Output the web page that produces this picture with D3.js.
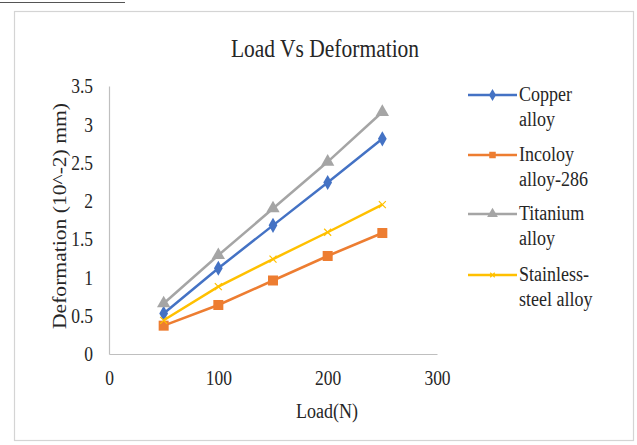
<!DOCTYPE html>
<html>
<head>
<meta charset="utf-8">
<script src="https://cdn.jsdelivr.net/npm/d3@7"></script>
<style>
  html, body { margin: 0; padding: 0; background: #fff; }
  svg { display: block; }
  text { font-family: "Liberation Serif", "Times New Roman", serif; fill: #262626; }
</style>
</head>
<body>
<svg id="chart" width="637" height="445"></svg>
<script>
// Load (N) on the x axis
const loads = [50, 100, 150, 200, 250];

// Deformation (10^-2 mm) for each alloy
const copperAlloy    = [0.53, 1.12, 1.68, 2.24, 2.81];
const incoloyAlloy   = [0.37, 0.64, 0.96, 1.28, 1.58];
const titaniumAlloy  = [0.66, 1.29, 1.90, 2.51, 3.16];
const stainlessAlloy = [0.44, 0.88, 1.24, 1.59, 1.95];

const seriesNames = [["Copper", "alloy"], ["Incoloy", "alloy-286"], ["Titanium", "alloy"], ["Stainless-", "steel alloy"]];
const seriesColors = ["#4472C4", "#ED7D31", "#A5A5A5", "#FFC000"];
const seriesMarkers = ["diamond", "square", "triangle", "cross"];

const xTicks = [0, 100, 200, 300];
const yTicks = [0, 0.5, 1, 1.5, 2, 2.5, 3, 3.5];

const series = [copperAlloy, incoloyAlloy, titaniumAlloy, stainlessAlloy].map((vals, i) => ({
  name: seriesNames[i], color: seriesColors[i], marker: seriesMarkers[i],
  points: vals.map((v, j) => ({ x: loads[j], y: v }))
}));

// tall, narrow lettering
const STRETCH = 1.2;

const svg = d3.select("#chart");

// caption underline above the frame
svg.append("line").attr("x1", 0).attr("x2", 125).attr("y1", 2.5).attr("y2", 2.5)
  .attr("stroke", "#555").attr("stroke-width", 1);

// chart frame
svg.append("rect").attr("x", 14.5).attr("y", 11.5).attr("width", 619).attr("height", 429)
  .attr("fill", "#fff").attr("stroke", "#d4d4d4").attr("stroke-width", 1.2);

const x = d3.scaleLinear().domain([0, 300]).range([109, 437]);
const y = d3.scaleLinear().domain([0, 3.5]).range([354, 86]);

// horizontal text placed at (tx, ty) baseline, stretched vertically
function label(tx, ty, str, size, anchor) {
  return svg.append("text")
    .attr("transform", `translate(${tx},${ty}) scale(1,${STRETCH})`)
    .attr("text-anchor", anchor || "start")
    .attr("font-size", size).text(str);
}

// title
label(325, 57, "Load Vs Deformation", 21.5, "middle");

// axes
const xAxis = d3.axisBottom(x).tickValues(xTicks).tickSize(0).tickPadding(13).tickFormat(d3.format("d"));
const yAxis = d3.axisLeft(y).tickValues(yTicks).tickSize(0).tickPadding(16).tickFormat(d => d);

const gx = svg.append("g").attr("transform", `translate(0,${y(0)})`).call(xAxis);
const gy = svg.append("g").attr("transform", `translate(${x(0)},0)`).call(yAxis);
[gx, gy].forEach(g => {
  g.select(".domain").attr("stroke", "#bfbfbf").attr("stroke-width", 1.2);
  g.selectAll("text")
    .attr("font-size", 17.5)
    .attr("font-family", "Liberation Serif, serif")
    .attr("fill", "#262626")
    .attr("transform", `scale(1,${STRETCH})`);
});

// axis titles
label(327, 418, "Load(N)", 18, "middle");
svg.append("text")
  .attr("transform", `translate(66,${(y(0) + y(3.5)) / 2 - 4}) rotate(-90) scale(${STRETCH},1)`)
  .attr("text-anchor", "middle").attr("font-size", 18).attr("fill", "#333")
  .text("Deformation (10^-2) mm)");

const line = d3.line().x(d => x(d.x)).y(d => y(d.y));

function drawMarker(g, type, color, size) {
  if (type === "diamond") {
    g.append("path").attr("d", d3.symbol(d3.symbolDiamond, size * 6)()).attr("fill", color);
  } else if (type === "square") {
    g.append("rect").attr("x", -size / 2).attr("y", -size / 2).attr("width", size).attr("height", size).attr("fill", color);
  } else if (type === "triangle") {
    g.append("path").attr("d", d3.symbol(d3.symbolTriangle, size * 7)()).attr("fill", color);
  } else if (type === "cross") {
    const s = size / 2;
    g.append("path").attr("d", `M${-s},${-s}L${s},${s}M${-s},${s}L${s},${-s}`)
      .attr("stroke", color).attr("stroke-width", 1.2).attr("fill", "none");
  }
}

const markerSize = { diamond: 11, square: 10, triangle: 11, cross: 7 };

// series lines and markers
series.forEach(s => {
  svg.append("path").datum(s.points).attr("d", line)
    .attr("fill", "none").attr("stroke", s.color).attr("stroke-width", 2.5);
  s.points.forEach(p => {
    const g = svg.append("g").attr("transform", `translate(${x(p.x)},${y(p.y)})`);
    drawMarker(g, s.marker, s.color, markerSize[s.marker]);
  });
});

// legend
const legendRows = [95, 155, 214, 275];
series.forEach((s, i) => {
  const ly = legendRows[i];
  svg.append("line").attr("x1", 468).attr("x2", 517).attr("y1", ly).attr("y2", ly)
    .attr("stroke", s.color).attr("stroke-width", 2.5);
  const g = svg.append("g").attr("transform", `translate(492.5,${ly})`);
  drawMarker(g, s.marker, s.color, markerSize[s.marker] * 0.65);
  s.name.forEach((part, k) => {
    label(519, ly + 6 + k * 24.5, part, 18);
  });
});
</script>
</body>
</html>
